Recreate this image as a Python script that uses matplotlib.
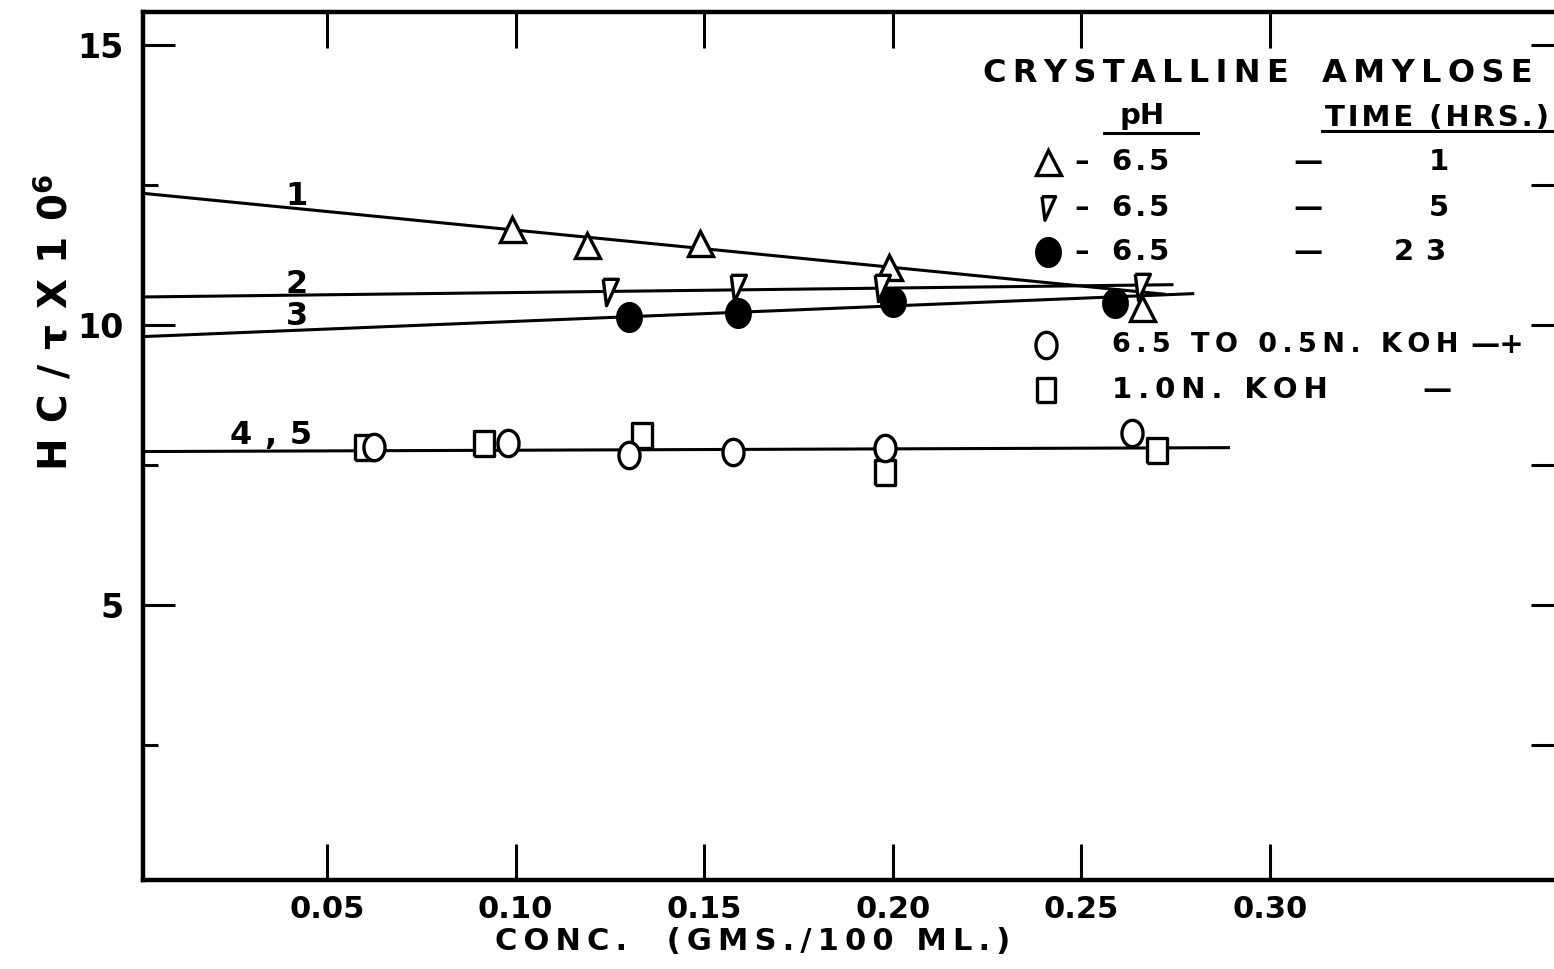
import numpy as np
import matplotlib.pyplot as plt

# Light scattering of crystalline amylose, HC/tau x 10^6 vs concentration
# values

conc_1hr = [0.099, 0.119, 0.149, 0.199, 0.266]
hct_1hr = [11.71, 11.43, 11.46, 11.03, 10.30]

conc_5hr = [0.125, 0.159, 0.197, 0.266]
hct_5hr = [10.59, 10.66, 10.66, 10.68]

conc_23hr = [0.130, 0.159, 0.200, 0.259]
hct_23hr = [10.14, 10.21, 10.41, 10.39]

conc_koh05 = [0.0625, 0.098, 0.130, 0.1575, 0.198, 0.2635]
hct_koh05 = [7.83, 7.89, 7.68, 7.73, 7.80, 8.07]

conc_koh10 = [0.060, 0.0915, 0.1335, 0.198, 0.270]
hct_koh10 = [7.82, 7.89, 8.04, 7.37, 7.77]

# hand drawn straight lines (start, end)
line1_x = [0.0, 0.272]
line1_y = [12.36, 10.55]
line2_x = [0.0, 0.274]
line2_y = [10.50, 10.72]
line3_x = [0.0, 0.2795]
line3_y = [9.79, 10.56]
line45_x = [0.0, 0.289]
line45_y = [7.74, 7.81]

line_labels = ['1', '2', '3', '4,5']

xticks = [0.05, 0.10, 0.15, 0.20, 0.25, 0.30]
xticklabels = ['0.05', '0.10', '0.15', '0.20', '0.25', '0.30']
yticks = [5, 10, 15]
yminor = [2.5, 7.5, 12.5]

legend_ph = ['6.5', '6.5', '6.5']
legend_time = ['1', '5', '23']
legend_koh = ['6.5 TO 0.5N. KOH', '1.0N. KOH']

W, H = 1554, 969
THIN = '\u2009'
HAIR = '\u200a'


def sp(s, gap=THIN):
    # letter spacing like the hand lettering
    return gap.join(s)


def fxy(x, y):
    return x / W, 1 - y / H


# marker shapes (hand drawn ones are a bit taller than wide)
t = np.linspace(0, 2 * np.pi, 41)
ellipse = np.c_[0.8 * np.cos(t), np.sin(t)]
fat_ellipse = np.c_[0.85 * np.cos(t), np.sin(t)]
rect = [(-0.8, -1), (0.8, -1), (0.8, 1), (-0.8, 1), (-0.8, -1)]
down_tri = [(-0.55, 1), (0.6, 1), (-0.3, -1), (-0.55, 1)]

fig = plt.figure(figsize=(W / 100, H / 100), dpi=100)
ax = fig.add_axes([143 / W, 1 - 880 / H, (1562 - 143) / W, (880 - 12) / H])

lw = 2.2
ax.plot(line1_x, line1_y, color='black', lw=lw, zorder=2)
ax.plot(line2_x, line2_y, color='black', lw=lw, zorder=2)
ax.plot(line3_x, line3_y, color='black', lw=lw, zorder=2)
ax.plot(line45_x, line45_y, color='black', lw=lw, zorder=2)

mk = dict(linestyle='none', markeredgecolor='black', markeredgewidth=2.4, zorder=3)
ax.plot(conc_koh10, hct_koh10, marker=rect, markersize=18, markerfacecolor='white', **mk)
ax.plot(conc_koh05, hct_koh05, marker=ellipse, markersize=19, markerfacecolor='white', **mk)
ax.plot(conc_1hr, hct_1hr, marker='^', markersize=18, markerfacecolor='white', **mk)
ax.plot(conc_5hr, hct_5hr, marker=down_tri, markersize=19, markerfacecolor='white', **mk)
ax.plot(conc_23hr, hct_23hr, marker=fat_ellipse, markersize=20, markerfacecolor='black', **mk)

# curve numbers
lab_kw = dict(fontsize=23, fontweight='bold', ha='center', va='center')
ax.text(0.042, 12.30, line_labels[0], **lab_kw)
ax.text(0.042, 10.72, line_labels[1], **lab_kw)
ax.text(0.042, 10.15, line_labels[2], **lab_kw)
ax.text(0.0353, 8.02, sp(line_labels[3], THIN * 2), **lab_kw)

ax.set_xlim(0.00122, 0.3774)
ax.set_ylim(0.089, 15.59)

for s in ax.spines.values():
    s.set_linewidth(3.2)

ax.set_xticks(xticks)
ax.set_xticklabels(xticklabels, fontsize=22, fontweight='bold')
ax.set_yticks(yticks)
ax.set_yticklabels([str(v) for v in yticks], fontsize=24, fontweight='bold')
ax.set_yticks(yminor, minor=True)
ax.tick_params(axis='x', direction='in', length=26, width=2.2, top=True, pad=11)
ax.tick_params(axis='y', which='major', direction='in', length=23, width=2.2, pad=14)
ax.tick_params(axis='y', which='minor', direction='in', length=11, width=2.2)

# ticks on the right hand edge
ax2 = ax.twinx()
ax2.set_ylim(ax.get_ylim())
ax2.set_yticks(yminor + yticks)
ax2.set_yticklabels([])
ax2.tick_params(axis='y', direction='in', length=22, width=2.2)
ax2.spines['right'].set_linewidth(3.2)

# axis titles
fig.text(*fxy(753, 942), sp('CONC.  (GMS./100 ML.)'), fontsize=22, fontweight='bold',
         ha='center', va='center')
fig.text(*fxy(54, 322), sp('HC/τX10', THIN * 2) + '$^{\\mathbf{6}}$', fontsize=28,
         fontweight='bold', rotation=90, ha='center', va='center')

# legend block
tk = dict(fontsize=21, fontweight='bold', va='center', ha='left')
fig.text(*fxy(983, 73), sp('CRYSTALLINE') + '   ' + sp('AMYLOSE'), fontsize=23,
         fontweight='bold', va='center', ha='left')
fig.text(*fxy(1119, 116), 'pH', **tk)
fig.text(*fxy(1325, 118), sp('TIME (HRS.)', HAIR), fontsize=21, fontweight='bold',
         va='center', ha='left')
ax.plot(*zip(fxy(1104, 133), fxy(1198, 133)), color='black', lw=2.2,
        transform=fig.transFigure, clip_on=False)
ax.plot(*zip(fxy(1322, 131), fxy(1560, 131)), color='black', lw=2.2,
        transform=fig.transFigure, clip_on=False)

leg_markers = [('^', 'white', 18), (down_tri, 'white', 17), (fat_ellipse, 'black', 20)]
rows_y = [162, 208, 252]
for i, (m, fc, ms) in enumerate(leg_markers):
    ax.plot(*fxy(1048, rows_y[i]), marker=m, markersize=ms, markerfacecolor=fc,
            transform=fig.transFigure, clip_on=False, **mk)
    fig.text(*fxy(1074, rows_y[i]), '–', **tk)
    fig.text(*fxy(1112, rows_y[i]), sp(legend_ph[i], HAIR), **tk)
    fig.text(*fxy(1293, rows_y[i]), '—', **tk)
    fig.text(*fxy(1439 if len(legend_time[i]) == 1 else 1420, rows_y[i]),
             sp(legend_time[i], THIN * 2), fontsize=21, fontweight='bold',
             va='center', ha='center')

ax.plot(*fxy(1046, 345), marker=ellipse, markersize=19, markerfacecolor='white',
        transform=fig.transFigure, clip_on=False, **mk)
fig.text(*fxy(1112, 345), sp(legend_koh[0]), fontsize=19.5, fontweight='bold',
         va='center', ha='left')
fig.text(*fxy(1470, 345), '—+', **tk)
ax.plot(*fxy(1046, 390), marker=rect, markersize=17, markerfacecolor='white',
        transform=fig.transFigure, clip_on=False, **mk)
fig.text(*fxy(1112, 390), sp(legend_koh[1]), **tk)
fig.text(*fxy(1422, 390), '—', **tk)

fig.savefig('out.png', dpi=100, facecolor='white')
